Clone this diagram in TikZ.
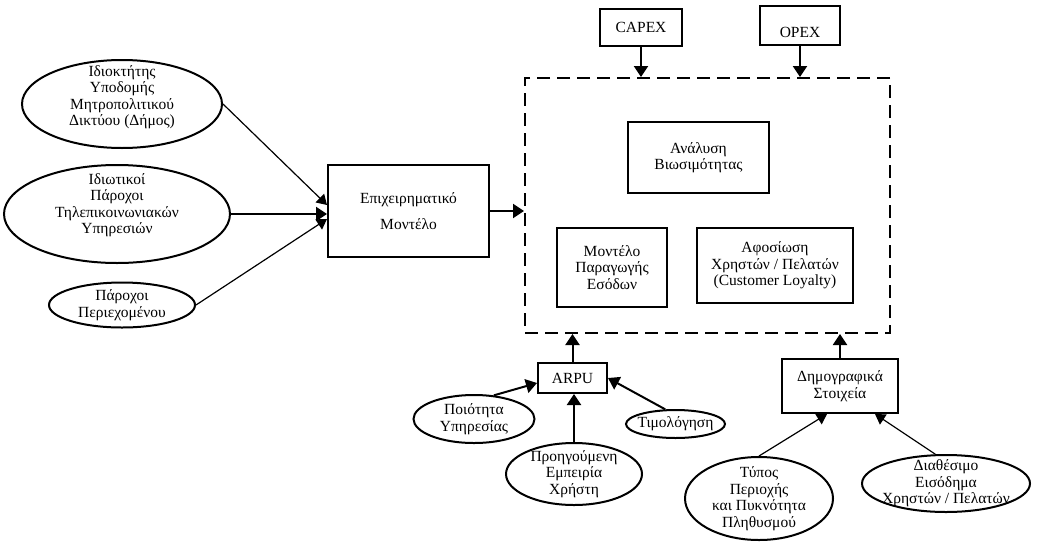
\documentclass[tikz,border=0pt]{standalone}
\usepackage{fontspec}
\setmainfont{Liberation Serif}
\usetikzlibrary{positioning}
\usetikzlibrary{shapes.geometric}
\usetikzlibrary{arrows.meta}

\begin{document}
\begin{tikzpicture}[x=1pt, y=-1pt,
	box/.style={draw, line width=2pt, align=center, inner sep=2pt},
	oval/.style={ellipse, draw, line width=2pt, inner sep=0pt},
	txt/.style={align=center, inner sep=0pt},
	flow/.style={line width=2pt, -{Triangle[width=14pt,length=11pt]}},
	thin flow/.style={line width=1.2pt, -{Triangle[width=12pt,length=10pt]}},
	font=\fontsize{15.5}{16.5}\selectfont]
	\useasboundingbox (0,0) rectangle (1048,549);
	
	% top inputs and the dashed study area
	\node[box, minimum width=82pt, minimum height=37pt] (capex) at (641,27.5) {CAPEX};
	\node[box, minimum width=80pt, minimum height=39pt] (opex) at (800,25.5) {\rule{0pt}{25pt}OPEX};
	\node[draw, line width=2pt, dash pattern=on 13pt off 7pt, minimum width=365pt, minimum height=255pt] (study) at (707.5,205.5) {};
	
	\node[box, minimum width=141pt, minimum height=71pt] (viab) at (698.5,157.5) {Ανάλυση\\Βιωσιμότητας};
	\node[box, minimum width=110pt, minimum height=79pt] (rev) at (612,267.5) {Μοντέλο\\Παραγωγής\\Εσόδων};
	\node[box, minimum width=156pt, minimum height=75pt] (loyal) at (775,265.5) {Αφοσίωση\\Χρηστών / Πελατών\\(Customer Loyalty)};
	
	\node[box, minimum width=161pt, minimum height=92pt] (bm) at (408.5,211) {Επιχειρηματικό\\[9pt]Μοντέλο};
	\node[box, minimum width=69pt, minimum height=30pt] (arpu) at (572.5,378) {ARPU};
	\node[box, minimum width=116pt, minimum height=54pt] (demo) at (840,386) {Δημογραφικά\\Στοιχεία};
	
	% actors on the left
	\node[oval, minimum width=200pt, minimum height=88pt] (owner) at (122,104) {};
	\node[txt] (ownert) at (122,97) {Ιδιοκτήτης\\Υποδομής\\Μητροπολιτικού\\Δικτύου (Δήμος)};
	\node[oval, minimum width=226pt, minimum height=98pt] (telco) at (117,214) {};
	\node[txt] (telcot) at (117,205) {Ιδιωτικοί\\Πάροχοι\\Τηλεπικοινωνιακών\\Υπηρεσιών};
	\node[oval, minimum width=146pt, minimum height=45pt] (cont) at (122,305) {};
	\node[txt] (contt) at (cont) {Πάροχοι\\Περιεχομένου};
	
	% factors at the bottom
	\node[oval, minimum width=121pt, minimum height=48pt] (qual) at (474,419) {};
	\node[txt] (qualt) at (qual) {Ποιότητα\\Υπηρεσίας};
	\node[oval, minimum width=99pt, minimum height=28pt] (price) at (675.5,424) {};
	\node[txt] (pricet) at (price) {Τιμολόγηση};
	\node[oval, minimum width=136pt, minimum height=62pt] (prev) at (574,474) {};
	\node[txt] (prevt) at (prev) {Προηγούμενη\\Εμπειρία\\Χρήστη};
	\node[oval, minimum width=148pt, minimum height=83pt] (area) at (759,498.5) {};
	\node[txt] (areat) at (area) {Τύπος\\Περιοχής\\και Πυκνότητα\\Πληθυσμού};
	\node[oval, minimum width=168pt, minimum height=57pt] (income) at (946,483.5) {};
	\node[txt] (incomet) at (income) {Διαθέσιμο\\Εισόδημα\\Χρηστών / Πελατών};
	
	\draw[thin flow] (owner.east) -- ([yshift=6pt]bm.west);
	\draw[flow] (telco.east) -- (telco.east -| bm.west);
	\draw[thin flow] (cont.east) -- ([yshift=-8pt]bm.west);
	\draw[flow] (bm.east) -- (bm.east -| study.west);
	
	\draw[flow] (capex.south) -- (capex.south |- study.north);
	\draw[flow] (opex.south) -- (opex.south |- study.north);
	\draw[flow] (arpu.north) -- (arpu.north |- study.south);
	\draw[flow] (demo.north) -- (demo.north |- study.south);
	
	\draw[flow] (qual.50) -- ([yshift=-5pt]arpu.west);
	\draw[flow] (price.125) -- (arpu.east);
	\draw[flow] (prev.north) -- (prev.north |- arpu.south);
	\draw[thin flow] (area.north) -- ([xshift=-13pt]demo.south);
	\draw[thin flow] (income.110) -- ([xshift=35pt]demo.south);
\end{tikzpicture}
\end{document}
